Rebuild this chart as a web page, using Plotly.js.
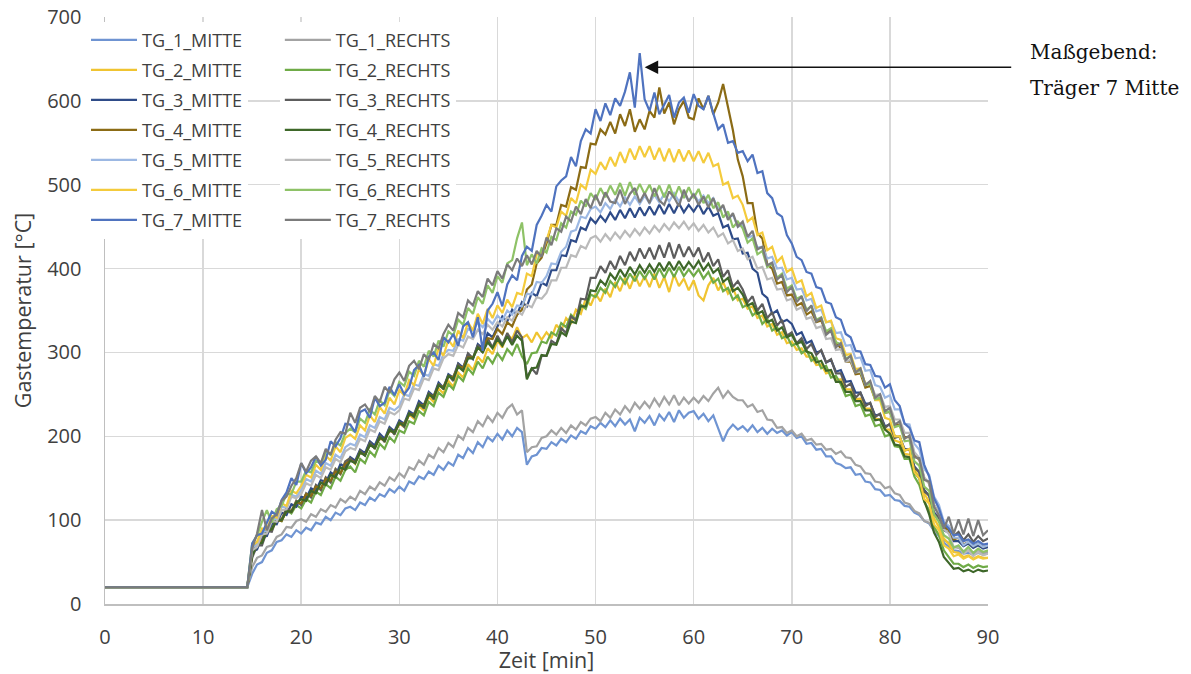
<!DOCTYPE html>
<html><head><meta charset="utf-8">
<script src="https://cdn.plot.ly/plotly-3.0.1.min.js"></script>
<style>html,body{margin:0;padding:0;background:#fff}#chart{width:1191px;height:674px}</style>
</head><body><div id="chart"></div>
<script>
// Zeit [min]
const zeit = [0, 14.5,
15, 15.5, 16, 16.5, 17, 17.5, 18, 18.5, 19, 19.5,
20, 20.5, 21, 21.5, 22, 22.5, 23, 23.5, 24, 24.5,
25, 25.5, 26, 26.5, 27, 27.5, 28, 28.5, 29, 29.5,
30, 30.5, 31, 31.5, 32, 32.5, 33, 33.5, 34, 34.5,
35, 35.5, 36, 36.5, 37, 37.5, 38, 38.5, 39, 39.5,
40, 40.5, 41, 41.5, 42, 42.5, 43, 43.5, 44, 44.5,
45, 45.5, 46, 46.5, 47, 47.5, 48, 48.5, 49, 49.5,
50, 50.5, 51, 51.5, 52, 52.5, 53, 53.5, 54, 54.5,
55, 55.5, 56, 56.5, 57, 57.5, 58, 58.5, 59, 59.5,
60, 60.5, 61, 61.5, 62, 62.5, 63, 63.5, 64, 64.5,
65, 65.5, 66, 66.5, 67, 67.5, 68, 68.5, 69, 69.5,
70, 70.5, 71, 71.5, 72, 72.5, 73, 73.5, 74, 74.5,
75, 75.5, 76, 76.5, 77, 77.5, 78, 78.5, 79, 79.5,
80, 80.5, 81, 81.5, 82, 82.5, 83, 83.5, 84, 84.5,
85, 85.5, 86, 86.5, 87, 87.5, 88, 88.5, 89, 89.5,
90];

const TG_1_MITTE = [20, 20,
36, 47, 50, 61, 64, 74, 76, 83, 80, 88,
84, 91, 88, 97, 95, 104, 100, 109, 106, 114,
116, 112, 121, 118, 127, 123, 131, 128, 137, 133,
140, 135, 146, 143, 152, 149, 158, 154, 165, 160,
169, 165, 178, 174, 186, 180, 193, 187, 199, 194,
203, 196, 207, 200, 210, 205, 166, 176, 178, 186,
185, 193, 189, 197, 193, 201, 197, 206, 203, 212,
209, 216, 211, 219, 212, 221, 214, 220, 206, 222,
216, 224, 213, 226, 219, 229, 217, 231, 222, 228,
230, 221, 227, 218, 225, 210, 194, 207, 214, 208,
212, 206, 213, 205, 210, 203, 209, 204, 207, 201,
205, 198, 200, 191, 192, 184, 185, 176, 176, 168,
166, 162, 163, 154, 155, 146, 145, 137, 136, 129,
130, 124, 123, 117, 116, 109, 106, 99, 96, 87,
81, 73, 69, 64, 63, 60, 61, 59, 61, 59,
60];

const TG_1_RECHTS = [20, 20,
44, 55, 58, 68, 70, 80, 83, 92, 91, 99,
101, 98, 107, 104, 113, 110, 118, 115, 125, 121,
128, 124, 135, 131, 140, 136, 145, 141, 151, 147,
156, 151, 163, 160, 171, 166, 178, 174, 186, 181,
192, 187, 201, 196, 210, 205, 218, 212, 224, 217,
228, 222, 233, 238, 226, 231, 181, 187, 188, 198,
200, 207, 202, 210, 204, 213, 208, 217, 213, 221,
223, 218, 228, 222, 232, 226, 236, 229, 240, 233,
241, 234, 245, 236, 247, 238, 249, 237, 246, 239,
246, 240, 248, 242, 251, 258, 246, 254, 247, 243,
243, 235, 238, 229, 231, 220, 219, 210, 211, 204,
207, 200, 203, 195, 197, 190, 191, 184, 185, 179,
182, 175, 174, 166, 164, 156, 155, 146, 145, 138,
140, 132, 130, 121, 119, 111, 108, 99, 97, 88,
83, 76, 73, 68, 67, 63, 64, 61, 63, 61,
62];

const TG_2_MITTE = [20, 20,
58, 72, 75, 89, 88, 103, 101, 114, 111, 123,
119, 131, 128, 141, 136, 151, 146, 161, 155, 170,
174, 167, 182, 178, 192, 186, 199, 194, 209, 203,
215, 211, 226, 221, 236, 231, 247, 241, 257, 251,
266, 259, 276, 270, 286, 279, 295, 288, 305, 298,
314, 306, 322, 316, 330, 317, 321, 312, 324, 315,
324, 317, 333, 326, 341, 334, 351, 346, 364, 356,
370, 361, 376, 366, 384, 373, 389, 376, 392, 379,
391, 378, 394, 377, 390, 372, 393, 379, 388, 374,
386, 368, 362, 380, 389, 374, 384, 370, 377, 362,
364, 352, 355, 341, 344, 331, 334, 321, 324, 311,
313, 303, 305, 295, 295, 285, 286, 275, 277, 267,
268, 256, 256, 244, 245, 233, 233, 221, 220, 208,
208, 195, 193, 179, 178, 160, 152, 132, 122, 102,
92, 78, 72, 62, 61, 56, 58, 54, 57, 55,
55];

const TG_2_RECHTS = [20, 20,
60, 74, 77, 92, 91, 103, 99, 112, 108, 118,
114, 125, 121, 134, 130, 143, 138, 152, 147, 160,
164, 157, 173, 168, 182, 176, 191, 185, 199, 193,
207, 204, 218, 215, 230, 225, 241, 236, 252, 247,
262, 256, 272, 266, 281, 274, 289, 281, 295, 287,
299, 291, 304, 297, 310, 295, 286, 299, 300, 313,
311, 324, 320, 335, 330, 345, 339, 357, 352, 369,
366, 377, 371, 385, 378, 390, 382, 394, 385, 397,
388, 398, 387, 400, 389, 401, 390, 402, 391, 399,
391, 399, 388, 396, 383, 388, 373, 377, 363, 368,
354, 357, 344, 349, 334, 340, 326, 330, 317, 320,
308, 311, 299, 303, 290, 294, 281, 284, 270, 272,
262, 248, 250, 236, 238, 224, 226, 212, 214, 200,
202, 188, 187, 173, 173, 152, 142, 122, 112, 92,
82, 64, 56, 48, 48, 44, 47, 43, 46, 44,
45];

const TG_3_MITTE = [20, 20,
62, 65, 80, 81, 96, 95, 109, 106, 119, 116,
128, 126, 138, 135, 148, 145, 157, 153, 167, 163,
175, 171, 184, 180, 194, 189, 203, 197, 211, 206,
219, 215, 230, 226, 242, 237, 253, 248, 264, 258,
274, 270, 287, 282, 298, 292, 310, 305, 323, 318,
331, 343, 337, 351, 345, 360, 355, 371, 367, 383,
380, 398, 398, 416, 415, 434, 432, 449, 446, 460,
454, 463, 456, 467, 458, 470, 460, 472, 461, 473,
463, 474, 464, 476, 465, 477, 466, 478, 467, 476,
468, 477, 465, 474, 463, 466, 449, 452, 435, 436,
418, 419, 400, 395, 370, 365, 346, 350, 336, 339,
334, 321, 324, 311, 314, 300, 302, 288, 291, 277,
279, 265, 266, 252, 252, 239, 239, 225, 226, 212,
214, 200, 199, 185, 184, 164, 157, 136, 129, 109,
103, 88, 85, 75, 75, 69, 72, 67, 70, 66,
68];

const TG_3_RECHTS = [20, 20,
55, 70, 70, 87, 86, 102, 100, 115, 110, 123,
118, 132, 127, 142, 136, 151, 145, 161, 155, 170,
174, 168, 183, 177, 193, 185, 201, 193, 210, 202,
217, 211, 228, 223, 240, 233, 252, 244, 263, 256,
273, 266, 286, 280, 299, 293, 309, 300, 317, 306,
320, 309, 323, 312, 326, 318, 270, 281, 274, 296,
296, 314, 310, 329, 323, 343, 338, 364, 363, 389,
389, 403, 395, 409, 399, 415, 404, 420, 409, 424,
412, 425, 411, 428, 413, 431, 412, 429, 414, 426,
414, 425, 408, 419, 403, 411, 390, 398, 378, 385,
375, 360, 367, 350, 358, 341, 348, 332, 339, 320,
324, 311, 317, 304, 310, 297, 303, 288, 292, 275,
275, 259, 263, 246, 252, 236, 240, 223, 227, 210,
215, 198, 200, 183, 185, 162, 158, 134, 130, 107,
104, 89, 92, 81, 86, 76, 83, 74, 81, 75,
78];

const TG_4_MITTE = [20, 20,
60, 73, 75, 88, 89, 100, 99, 111, 110, 121,
120, 131, 129, 140, 138, 149, 147, 158, 156, 167,
171, 169, 180, 178, 189, 187, 197, 196, 206, 205,
215, 215, 226, 226, 237, 237, 249, 248, 260, 259,
271, 271, 283, 282, 294, 294, 305, 305, 317, 316,
328, 322, 336, 331, 345, 351, 375, 381, 406, 413,
430, 452, 452, 476, 474, 497, 494, 521, 520, 549,
548, 566, 560, 575, 561, 584, 570, 590, 563, 578,
566, 588, 580, 616, 585, 598, 572, 590, 600, 580,
578, 603, 590, 606, 584, 598, 620, 592, 565, 530,
510, 478, 478, 442, 436, 405, 400, 382, 384, 368,
369, 356, 359, 345, 349, 336, 338, 324, 326, 312,
305, 289, 289, 274, 275, 258, 260, 244, 245, 228,
229, 214, 214, 199, 199, 177, 172, 150, 144, 118,
108, 92, 88, 77, 79, 71, 74, 69, 72, 68,
70];

const TG_4_RECHTS = [20, 20,
58, 71, 73, 87, 89, 100, 100, 111, 110, 121,
125, 123, 135, 132, 145, 142, 154, 151, 163, 160,
171, 168, 181, 177, 190, 186, 199, 195, 208, 204,
216, 213, 227, 224, 238, 235, 250, 246, 261, 257,
272, 268, 283, 278, 293, 293, 306, 300, 312, 305,
316, 308, 319, 309, 320, 314, 268, 281, 282, 297,
296, 310, 309, 324, 320, 337, 335, 355, 355, 374,
373, 386, 380, 394, 387, 399, 390, 402, 393, 404,
395, 405, 396, 407, 397, 408, 398, 409, 399, 408,
400, 409, 398, 406, 395, 400, 384, 389, 373, 377,
369, 356, 359, 346, 349, 336, 339, 326, 330, 318,
321, 310, 313, 301, 299, 288, 290, 278, 279, 265,
265, 253, 253, 242, 242, 231, 231, 219, 220, 208,
203, 190, 189, 176, 175, 157, 150, 123, 107, 85,
74, 56, 49, 42, 43, 39, 41, 38, 41, 39,
40];

const TG_5_MITTE = [20, 20,
67, 71, 86, 87, 102, 101, 116, 115, 130, 128,
136, 149, 146, 159, 155, 168, 165, 178, 174, 187,
191, 189, 202, 199, 213, 210, 223, 220, 234, 231,
236, 250, 248, 262, 260, 274, 272, 286, 284, 298,
303, 302, 316, 314, 328, 326, 336, 330, 340, 334,
344, 338, 350, 345, 356, 355, 370, 369, 384, 383,
391, 406, 405, 420, 426, 444, 446, 462, 460, 471,
474, 467, 478, 471, 482, 474, 485, 476, 486, 477,
487, 478, 488, 479, 489, 480, 490, 480, 489, 481,
489, 480, 487, 478, 484, 471, 474, 461, 464, 450,
452, 437, 439, 425, 426, 412, 414, 400, 401, 387,
389, 375, 376, 362, 364, 349, 351, 336, 337, 323,
324, 308, 309, 293, 294, 278, 279, 261, 259, 246,
249, 232, 232, 215, 214, 191, 184, 161, 154, 128,
118, 98, 93, 79, 79, 70, 74, 69, 72, 68,
70];

const TG_5_RECHTS = [20, 20,
64, 68, 83, 84, 99, 98, 112, 113, 128, 126,
131, 144, 141, 154, 150, 163, 160, 173, 169, 182,
186, 184, 197, 194, 208, 205, 218, 215, 229, 226,
231, 245, 243, 257, 255, 269, 267, 281, 279, 293,
298, 296, 309, 306, 319, 316, 327, 322, 333, 327,
336, 331, 342, 338, 349, 345, 357, 354, 366, 364,
371, 386, 386, 401, 401, 416, 414, 427, 424, 436,
439, 432, 441, 434, 443, 436, 445, 438, 447, 440,
449, 442, 451, 444, 453, 446, 455, 448, 456, 447,
454, 445, 452, 443, 449, 438, 442, 430, 434, 421,
424, 411, 414, 400, 402, 387, 389, 375, 376, 362,
364, 351, 354, 340, 342, 329, 331, 316, 317, 303,
304, 289, 291, 276, 277, 263, 264, 249, 250, 235,
236, 220, 220, 204, 204, 181, 174, 151, 144, 118,
108, 89, 84, 68, 69, 60, 64, 57, 62, 58,
60];

const TG_6_MITTE = [20, 20,
70, 74, 90, 89, 105, 103, 120, 117, 135, 132,
141, 154, 151, 166, 160, 177, 171, 188, 181, 198,
202, 197, 213, 207, 225, 217, 235, 227, 246, 238,
255, 249, 267, 261, 280, 272, 292, 284, 305, 296,
315, 307, 326, 317, 336, 326, 346, 334, 352, 341,
356, 347, 363, 354, 371, 369, 394, 391, 417, 418,
434, 452, 449, 468, 463, 484, 478, 500, 495, 518,
513, 527, 518, 533, 522, 539, 526, 543, 530, 546,
533, 546, 530, 544, 528, 543, 527, 542, 528, 541,
528, 540, 526, 538, 522, 525, 500, 503, 484, 487,
476, 456, 461, 440, 443, 422, 426, 408, 414, 396,
400, 383, 386, 367, 371, 353, 356, 336, 338, 317,
315, 297, 298, 280, 281, 262, 263, 243, 243, 222,
220, 200, 200, 183, 185, 157, 150, 125, 120, 95,
88, 70, 66, 57, 59, 54, 57, 53, 56, 54,
55];

const TG_6_RECHTS = [20, 20,
72, 82, 98, 112, 97, 113, 117, 131, 131, 146,
146, 159, 157, 171, 167, 182, 178, 193, 189, 204,
209, 205, 221, 216, 232, 226, 243, 237, 254, 248,
265, 260, 277, 272, 290, 283, 302, 295, 314, 307,
325, 320, 339, 333, 353, 346, 366, 358, 380, 371,
391, 383, 406, 410, 436, 455, 404, 417, 406, 424,
419, 438, 434, 454, 449, 468, 464, 481, 474, 490,
482, 496, 485, 499, 488, 502, 487, 503, 488, 501,
489, 500, 486, 499, 485, 500, 484, 498, 484, 497,
484, 495, 478, 488, 472, 479, 461, 468, 449, 456,
448, 431, 436, 417, 421, 402, 406, 389, 394, 376,
380, 364, 367, 351, 355, 339, 342, 325, 329, 312,
310, 293, 295, 277, 279, 261, 263, 244, 246, 228,
230, 211, 213, 194, 195, 170, 165, 140, 135, 107,
98, 82, 78, 67, 70, 62, 68, 61, 66, 62,
64];

const TG_7_MITTE = [20, 20,
72, 82, 84, 98, 110, 106, 124, 133, 150, 142,
168, 156, 163, 176, 165, 172, 194, 188, 198, 215,
214, 205, 229, 232, 222, 246, 236, 240, 259, 249,
262, 250, 258, 279, 285, 271, 295, 300, 291, 318,
312, 322, 308, 331, 336, 318, 342, 302, 350, 358,
372, 355, 381, 392, 386, 415, 426, 421, 452, 463,
476, 468, 498, 505, 510, 533, 522, 552, 566, 561,
590, 576, 597, 583, 603, 594, 611, 634, 592, 657,
602, 588, 610, 584, 596, 607, 580, 598, 604, 586,
608, 594, 590, 606, 585, 566, 572, 550, 552, 538,
540, 528, 536, 514, 516, 490, 484, 466, 462, 440,
430, 414, 410, 396, 394, 378, 376, 360, 358, 342,
339, 322, 318, 302, 301, 286, 285, 272, 271, 258,
262, 243, 236, 215, 210, 195, 193, 166, 152, 126,
114, 96, 90, 82, 83, 75, 77, 72, 75, 71,
72];

const TG_7_RECHTS = [20, 20,
66, 84, 112, 88, 102, 107, 123, 128, 141, 150,
168, 158, 171, 176, 168, 185, 178, 196, 205, 203,
228, 216, 234, 238, 229, 248, 241, 259, 252, 268,
276, 266, 284, 290, 280, 298, 291, 310, 305, 322,
333, 326, 347, 342, 362, 356, 373, 366, 388, 380,
397, 388, 405, 398, 412, 403, 416, 405, 421, 414,
437, 428, 448, 444, 462, 456, 474, 465, 483, 472,
488, 475, 491, 480, 478, 494, 477, 489, 496, 479,
490, 478, 496, 481, 476, 492, 485, 474, 494, 480,
489, 476, 486, 473, 484, 468, 476, 458, 466, 450,
456, 438, 445, 423, 426, 404, 407, 387, 392, 372,
378, 360, 367, 349, 356, 337, 341, 321, 326, 306,
311, 291, 296, 276, 281, 261, 266, 246, 250, 230,
234, 214, 218, 197, 201, 175, 174, 148, 146, 116,
106, 90, 104, 84, 101, 83, 102, 81, 100, 82,
88];

const seriesNames = ['TG_1_MITTE','TG_1_RECHTS','TG_2_MITTE','TG_2_RECHTS','TG_3_MITTE','TG_3_RECHTS','TG_4_MITTE','TG_4_RECHTS','TG_5_MITTE','TG_5_RECHTS','TG_6_MITTE','TG_6_RECHTS','TG_7_MITTE','TG_7_RECHTS'];
const seriesValues = [TG_1_MITTE, TG_1_RECHTS, TG_2_MITTE, TG_2_RECHTS, TG_3_MITTE, TG_3_RECHTS, TG_4_MITTE, TG_4_RECHTS, TG_5_MITTE, TG_5_RECHTS, TG_6_MITTE, TG_6_RECHTS, TG_7_MITTE, TG_7_RECHTS];

const farben = {
  TG_1_MITTE:'#6f94d2', TG_1_RECHTS:'#a3a3a3', TG_2_MITTE:'#f0c431', TG_2_RECHTS:'#6fab47',
  TG_3_MITTE:'#2e4b88', TG_3_RECHTS:'#5d5d5d', TG_4_MITTE:'#8b6b15', TG_4_RECHTS:'#3e6729',
  TG_5_MITTE:'#9cb8e3', TG_5_RECHTS:'#bababa', TG_6_MITTE:'#f4cb3c', TG_6_RECHTS:'#8ec267',
  TG_7_MITTE:'#4f73bf', TG_7_RECHTS:'#7b7b7b'
};

const traces = seriesNames.map((n, i) => ({
  type: 'scatter', mode: 'lines', name: n, x: zeit, y: seriesValues[i],
  line: {color: farben[n], width: 2.2},
  legend: n.indexOf('MITTE') >= 0 ? 'legend' : 'legend2',
  legendgroup: n
}));

const peak = Math.max(...TG_7_MITTE);
const peakIdx = TG_7_MITTE.indexOf(peak);

const legendStyle = {
  bgcolor: '#ffffff', borderwidth: 0, font: {family: 'Open Sans', size: 18, color: '#404040'},
  itemwidth: 46, tracegroupgap: 3.6, traceorder: 'grouped', yanchor: 'top', xanchor: 'left'
};

const layout = {
  width: 1191, height: 674,
  margin: {l: 105, r: 203, t: 17, b: 70},
  paper_bgcolor: '#ffffff', plot_bgcolor: '#ffffff',
  font: {family: 'Open Sans', color: '#404040'},
  showlegend: true,
  legend: Object.assign({}, legendStyle, {x: -0.0215, y: 0.992}),
  legend2: Object.assign({}, legendStyle, {x: 0.198, y: 0.992}),
  xaxis: {
    range: [0, 90], dtick: 10, tick0: 0,
    showgrid: true, gridcolor: '#d9d9d9', gridwidth: 1.5,
    showline: true, linecolor: '#bfbfbf', linewidth: 1.5, zeroline: false,
    ticks: '', ticklabelstandoff: 14,
    tickfont: {family: 'Open Sans', size: 20, color: '#404040'},
    title: {text: 'Zeit [min]', font: {family: 'Open Sans', size: 21.5, color: '#404040'}, standoff: 1}
  },
  yaxis: {
    range: [0, 700], dtick: 100, tick0: 0,
    showgrid: true, gridcolor: '#d9d9d9', gridwidth: 1.5,
    showline: true, linecolor: '#bfbfbf', linewidth: 1.5, zeroline: false,
    ticks: '', ticklabelstandoff: 18,
    tickfont: {family: 'Open Sans', size: 20, color: '#404040'},
    title: {text: 'Gastemperatur [°C]', font: {family: 'Open Sans', size: 21.5, color: '#404040'}, standoff: 9}
  },
  annotations: [
    {x: zeit[peakIdx], y: peak - 17, xref: 'x', yref: 'y', text: '', showarrow: true,
     ax: 373, ay: 0, arrowhead: 2, arrowsize: 1.8, arrowwidth: 1.5, arrowcolor: '#111111', standoff: 5},
    {x: 1.0453, y: 0.9404, xref: 'paper', yref: 'paper', xanchor: 'left', yanchor: 'middle', showarrow: false,
     text: 'Maßgebend:', font: {family: 'DejaVu Serif', size: 20, color: '#111111'}},
    {x: 1.0453, y: 0.879, xref: 'paper', yref: 'paper', xanchor: 'left', yanchor: 'middle', showarrow: false,
     text: 'Träger 7 Mitte', font: {family: 'DejaVu Serif', size: 20, color: '#111111'}}
  ]
};

Plotly.newPlot('chart', traces, layout, {staticPlot: true, displayModeBar: false});
</script>
</body></html>
